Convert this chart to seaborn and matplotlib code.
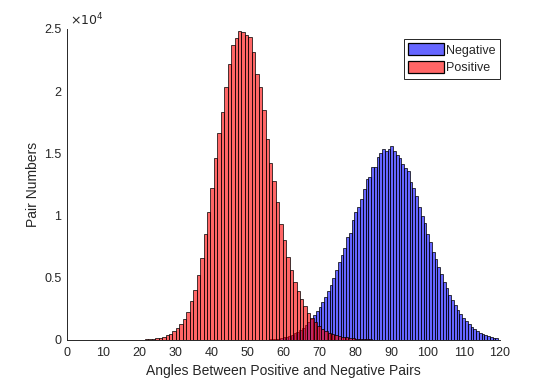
import numpy as np
import pandas as pd
import matplotlib
matplotlib.use("Agg")
import matplotlib.pyplot as plt
import seaborn as sns

# ---- data (bin counts) ----
positive_bin_start = 9.18
positive_bin_width = 0.955
positive_counts = [
    1, 1, 2, 2, 3, 4, 5, 7, 9, 13, 18, 25, 35, 50, 70, 100, 140,
    200, 280, 380, 520, 700, 950, 1300, 1700, 2230, 3140, 4000, 5230, 6570,
    8550, 10320, 12250, 14610, 16620, 18300, 20370, 22160, 23690, 24250,
    24840, 24760, 24550, 24340, 23180, 21360, 20370, 18470, 16160, 14260,
    12780, 11070, 9330, 8040, 6700, 5600, 4700, 3950, 3300, 2700,
    2200, 1800, 1450, 1150, 900, 700, 560, 460, 380, 310,
    260, 215, 180, 145, 120, 100, 80, 62, 50, 40,
    30, 24, 19, 15, 12, 9, 7, 5, 4, 3, 2, 2, 1,
]

negative_bin_start = 47.49
negative_bin_width = 0.766
negative_counts = [
    1, 1, 2, 3, 5, 7, 10, 14, 20, 28, 38, 50, 70, 90, 120, 160, 210, 270,
    340, 430, 540, 670, 820, 1000, 1200, 1450, 1700, 2000, 2300, 2650,
    3050, 3450, 3950, 4450, 5000, 5600, 6250, 6800,
    7400, 8260, 8580, 9650, 10320, 10720, 11310, 12120, 12940, 13130,
    13880, 13900, 14690, 15010, 15330, 15220, 15360, 15620, 15170, 14870,
    14660, 14150, 13850, 13610, 12730, 12250, 11600, 10670, 9970, 9380,
    8500, 7900, 7100, 6500, 5900, 5300, 4700, 4200, 3650, 3200,
    2800, 2400, 2050, 1750, 1500, 1250, 1050, 880, 720, 590,
    480, 390, 310, 250, 200, 160,
]

series_labels = ["Negative", "Positive"]
x_ticks = [0, 10, 20, 30, 40, 50, 60, 70, 80, 90, 100, 110, 120]
y_ticks = [0, 5000, 10000, 15000, 20000, 25000]
y_tick_labels = ["0", "0.5", "1", "1.5", "2", "2.5"]
x_label = "Angles Between Positive and Negative Pairs"
y_label = "Pair Numbers"


def make_frame(start, width, counts):
    counts = np.asarray(counts, dtype=float)
    centers = start + width * (np.arange(len(counts)) + 0.5)
    rng = (start, start + width * len(counts))
    return pd.DataFrame({"angle": centers, "count": counts}), rng


neg_df, neg_rng = make_frame(negative_bin_start, negative_bin_width, negative_counts)
pos_df, pos_rng = make_frame(positive_bin_start, positive_bin_width, positive_counts)

sns.set_style("white")
plt.rcParams["font.family"] = ["Liberation Sans", "DejaVu Sans"]

fig = plt.figure(figsize=(5.35, 3.82), dpi=100)
ax = fig.add_axes([67 / 535, 42 / 382, 433 / 535, 311 / 382])

text_col = "#262626"
fills = {"Negative": (0.0, 0.0, 1.0, 0.6), "Positive": (1.0, 0.0, 0.0, 0.6)}

for df, rng, width, name in [(neg_df, neg_rng, negative_bin_width, series_labels[0]),
                             (pos_df, pos_rng, positive_bin_width, series_labels[1])]:
    n_before = len(ax.patches)
    sns.histplot(data=df, x="angle", weights="count", binwidth=width, binrange=rng,
                 ax=ax, color=fills[name][:3], label=name, element="bars", fill=True)
    for p in ax.patches[n_before:]:
        p.set_alpha(None)
        p.set_facecolor(fills[name])
        p.set_edgecolor((0, 0, 0, 0.85))
        p.set_linewidth(0.6)

ax.set_xlim(0, 120)
ax.set_ylim(0, 25000)
ax.set_xticks(x_ticks)
ax.set_xticklabels([str(t) for t in x_ticks])
ax.set_yticks(y_ticks)
ax.set_yticklabels(y_tick_labels)

for s in ["top", "right"]:
    ax.spines[s].set_visible(False)
for s in ["left", "bottom"]:
    ax.spines[s].set_color(text_col)
    ax.spines[s].set_linewidth(0.7)

ax.tick_params(axis="both", direction="in", length=4, width=0.7, colors=text_col,
               labelsize=9, labelcolor=text_col)
ax.tick_params(axis="x", pad=5)
ax.tick_params(axis="y", pad=4)
ax.set_xlabel(x_label, fontsize=10, color=text_col, labelpad=4)
ax.set_ylabel(y_label, fontsize=10, color=text_col, labelpad=3)

ax.text(0.007, 1.003, r"$\times10^{4}$", transform=ax.transAxes, fontsize=9,
        color=text_col, ha="left", va="bottom")

leg = ax.legend(loc="upper right", bbox_to_anchor=(1.0, 0.968), fontsize=9,
                frameon=True, fancybox=False, framealpha=1, edgecolor=text_col,
                handlelength=2.85, handleheight=1.1, borderpad=0.35, labelspacing=0.35,
                handletextpad=0.2, borderaxespad=0.0)
leg.get_frame().set_linewidth(0.7)
for h in leg.legend_handles:
    h.set_edgecolor("black")
    h.set_linewidth(0.9)

fig.savefig("out.png", dpi=100)
